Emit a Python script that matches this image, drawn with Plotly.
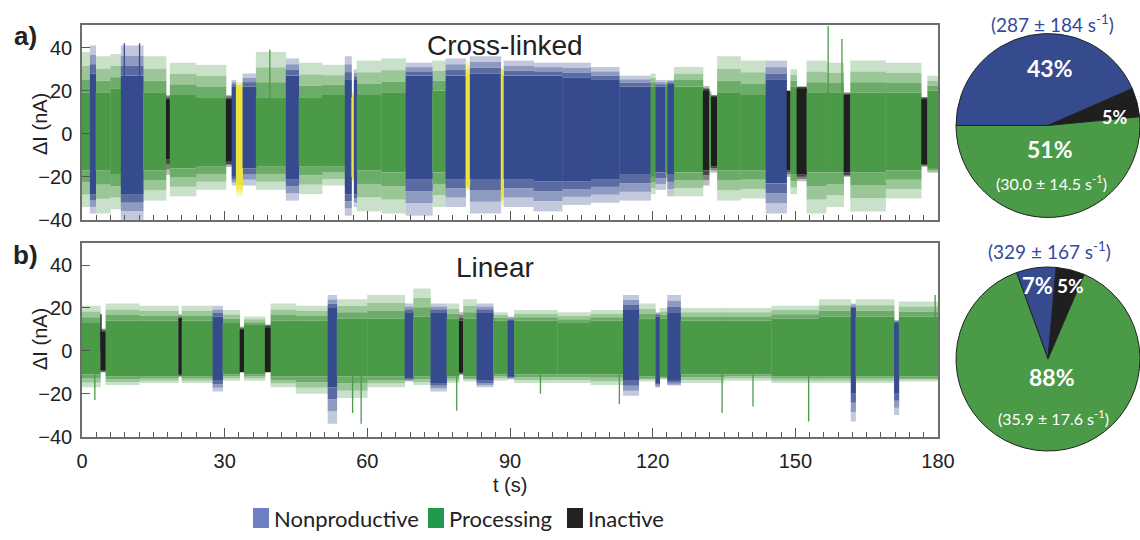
import plotly.graph_objects as go

# ---------------- data ----------------
T_END = 180

# state codes: P = processing, N = nonproductive, I = inactive, U = unassigned
STATE_COLORS = {"P": "#4b9a47", "N": "#364a8e", "I": "#1f1f1f", "U": "#ece33c"}

# Cross-linked trace: segment start times (s), state, dense-core and peak envelopes (nA)
a_start = [0.0, 1.7, 2.9, 6.0, 8.2, 12.9, 17.7, 18.5, 24.0, 30.3, 31.5, 32.4, 33.8, 36.6,
           42.9, 45.6, 50.5, 55.3, 56.7, 57.2, 57.8, 63.0, 68.1, 73.7, 76.5, 80.7, 81.6,
           88.1, 88.7, 95.0, 101.0, 107.0, 113.0, 119.6, 120.6, 122.8, 123.1, 124.5,
           130.6, 131.9, 132.3, 133.6, 138.5, 143.8, 148.2, 149.0, 150.3, 152.4, 156.5,
           160.2, 161.6, 169.0, 176.5, 177.8]
a_state = ["P", "N", "P", "P", "N", "P", "I", "P", "P", "I", "N", "U", "N", "P",
           "N", "P", "P", "N", "U", "N", "P", "P", "N", "P", "N", "U", "N",
           "U", "N", "N", "N", "N", "N", "P", "N", "P", "N", "P",
           "I", "P", "I", "P", "P", "N", "I", "P", "I", "P", "P",
           "I", "P", "P", "I", "P"]
a_core_hi = [19, 28, 19, 21, 27, 19, 16, 18, 17, 16, 22, 22, 22, 17,
             27, 17, 18, 25, 17, 25, 18, 19, 27, 20, 27, 28, 28,
             30, 27, 27, 26, 25, 22, 22, 22, 22, 23, 22,
             20, 18, 17, 19, 18, 25, 20, 22, 21, 19, 19,
             18, 19, 19, 16, 20]
a_core_lo = [-17, -28, -17, -19, -28, -17, -12, -16, -15, -13, -20, -24, -16, -15,
             -21, -15, -15, -28, -20, -28, -17, -18, -21, -18, -21, -24, -21,
             -30, -21, -22, -22, -21, -19, -20, -18, -18, -19, -18,
             -17, -15, -15, -17, -17, -23, -17, -19, -19, -18, -18,
             -18, -18, -17, -14, -16]
a_peak_hi = [38, 41, 36, 37, 41, 36, 18, 33, 32, 18, 25, 24, 28, 38,
             35, 33, 32, 36, 20, 30, 34, 35, 33, 34, 35, 34, 36,
             30, 34, 33, 33, 31, 27, 28, 25, 25, 25, 31,
             22, 20, 18, 36, 34, 34, 20, 30, 22, 34, 33,
             19, 34, 33, 17, 27]
a_peak_lo = [-34, -37, -37, -35, -40, -31, -19, -29, -26, -15, -24, -29, -24, -26,
             -31, -28, -24, -38, -22, -34, -36, -37, -38, -34, -34, -26, -37,
             -33, -34, -36, -33, -32, -31, -28, -26, -22, -29, -29,
             -24, -18, -18, -31, -30, -37, -20, -28, -22, -37, -34,
             -20, -36, -30, -15, -18]
a_spike_t = [39.5, 156.9, 159.8, 8.9, 12.1]
a_spike_v = [39, 50, 44, 42, 42]

# Linear trace
b_start = [0.0, 3.9, 5.0, 12.0, 20.3, 21.0, 27.5, 29.6, 33.2, 34.1, 38.5, 39.7, 45.0,
           51.7, 53.6, 60.0, 67.9, 69.7, 73.3, 76.7, 79.3, 80.2, 83.0, 86.5, 89.5,
           90.9, 100.0, 107.0, 113.8, 117.1, 120.6, 121.5, 123.1, 125.9, 135.0, 145.0,
           155.0, 161.7, 162.7, 170.8, 171.8]
b_state = ["P", "I", "P", "P", "I", "P", "N", "P", "I", "P", "I", "P", "P",
           "N", "P", "P", "N", "P", "N", "P", "I", "P", "N", "P", "N",
           "P", "P", "P", "N", "P", "N", "P", "N", "P", "P", "P",
           "P", "N", "P", "N", "P"]
b_core_hi = [13, 9, 14, 14, 15, 14, 16, 13, 10, 12, 11, 14, 14,
             20, 15, 15, 18, 16, 18, 15, 14, 15, 18, 14, 14,
             14, 13, 14, 19, 15, 16, 15, 18, 14, 14, 15,
             16, 20, 16, 13, 16]
b_core_lo = [-11, -9, -12, -12, -11, -12, -14, -11, -10, -11, -10, -12, -12,
             -17, -12, -12, -13, -12, -15, -12, -10, -12, -14, -11, -12,
             -11, -11, -11, -14, -12, -15, -12, -14, -11, -11, -12,
             -12, -20, -12, -20, -12]
b_peak_hi = [21, 10, 22, 21, 17, 21, 21, 19, 11, 16, 12, 22, 21,
             26, 24, 26, 22, 29, 22, 22, 18, 24, 22, 18, 16,
             19, 18, 19, 26, 22, 18, 20, 26, 20, 20, 21,
             24, 22, 24, 14, 23]
b_peak_lo = [-17, -10, -16, -15, -12, -15, -19, -14, -10, -14, -10, -17, -20,
             -34, -22, -17, -14, -16, -19, -15, -11, -14, -17, -14, -13,
             -15, -15, -16, -21, -14, -17, -13, -16, -15, -14, -15,
             -15, -33, -15, -30, -14]
b_spike_t = [4.0, 2.7, 58.7, 56.9, 78.8, 96.4, 113.0, 134.6, 141.1, 152.8, 179.4]
b_spike_v = [17, -23, -34, -29, -28, -20, -25, -29, -26, -33, 26]

# Dwell fractions (%) and rates
pie_labels = ["Nonproductive", "Inactive", "Processing"]
pie_a_values = [43, 5, 51]
pie_b_values = [7, 5, 88]
rate_a_nonprod = "(287 ± 184 s<sup>-1</sup>)"
rate_a_proc = "(30.0 ± 14.5 s<sup>-1</sup>)"
rate_b_nonprod = "(329 ± 167 s<sup>-1</sup>)"
rate_b_proc = "(35.9 ± 17.6 s<sup>-1</sup>)"

x_ticks = [0, 30, 60, 90, 120, 150, 180]
y_ticks = [-40, -20, 0, 20, 40]

PIE_COLORS = ["#364a8e", "#1f1f1f", "#4b9a47"]
LEGEND_COLORS = ["#6e7ec3", "#1f9a4c", "#222222"]
TEXT_BLUE = "#34499a"

W, H = 1140, 540
ARIAL = "Liberation Sans, Arial, sans-serif"
CALI = "Lato, Open Sans, sans-serif"
SEAM = 0.08  # small overlap so neighbouring blocks join without hairline gaps

fig = go.Figure()


def tint(hex_color, amount):
    """Blend a colour toward white; amount=1 keeps the colour, 0 gives white."""
    r, g, b = (int(hex_color[i:i + 2], 16) for i in (1, 3, 5))
    mix = lambda c: round(255 - (255 - c) * amount)
    return "#%02x%02x%02x" % (mix(r), mix(g), mix(b))


def state_at(starts, states, t):
    s = states[0]
    for st, sv in zip(starts, states):
        if st <= t:
            s = sv
    return s


def add_panel(starts, states, chi, clo, phi, plo, sp_t, sp_v, xa, ya):
    ends = starts[1:] + [T_END]
    centers = [(s + e) / 2 for s, e in zip(starts, ends)]
    widths = [e - s + SEAM for s, e in zip(starts, ends)]
    common = dict(x=centers, width=widths, marker_line_width=0,
                  xaxis=xa, yaxis=ya, showlegend=False, hoverinfo="skip")
    # sparse outer fringe -> denser inner fringe -> solid core
    layers = [(0.66, 1.0, 0.3), (0.33, 0.66, 0.56), (0.0, 0.33, 0.82)]
    for frac0, frac1, amt in layers:
        cols = [tint(STATE_COLORS[s], amt) for s in states]
        up_base = [c + (p - c) * frac0 for c, p in zip(chi, phi)]
        up_h = [(p - c) * (frac1 - frac0) for c, p in zip(chi, phi)]
        lo_base = [c + (p - c) * frac1 for c, p in zip(clo, plo)]
        lo_h = [(c - p) * (frac1 - frac0) for c, p in zip(clo, plo)]
        fig.add_trace(go.Bar(y=up_h, base=up_base, marker_color=cols, **common))
        fig.add_trace(go.Bar(y=lo_h, base=lo_base, marker_color=cols, **common))
    cols = [STATE_COLORS[s] for s in states]
    fig.add_trace(go.Bar(y=[h - l for h, l in zip(chi, clo)], base=clo,
                         marker_color=cols, **common))
    # isolated excursions
    groups = {}
    for t, v in zip(sp_t, sp_v):
        groups.setdefault(state_at(starts, states, t), []).append((t, v))
    for s, pts in groups.items():
        xs, ys = [], []
        for t, v in pts:
            xs += [t, t, None]
            ys += [0, v, None]
        fig.add_trace(go.Scatter(x=xs, y=ys, mode="lines",
                                 line=dict(color=STATE_COLORS[s], width=1.3),
                                 xaxis=xa, yaxis=ya, showlegend=False, hoverinfo="skip"))


add_panel(a_start, a_state, a_core_hi, a_core_lo, a_peak_hi, a_peak_lo,
          a_spike_t, a_spike_v, "x", "y")
add_panel(b_start, b_state, b_core_hi, b_core_lo, b_peak_hi, b_peak_lo,
          b_spike_t, b_spike_v, "x2", "y2")


def px(x):
    return x / W


def py(y):
    return 1 - y / H


# pies
pie_common = dict(labels=pie_labels, sort=False, direction="clockwise", textinfo="none",
                  marker=dict(colors=PIE_COLORS, line=dict(color="#222222", width=1)),
                  showlegend=False, hoverinfo="skip")
fig.add_trace(go.Pie(values=pie_a_values, rotation=-90,
                     domain=dict(x=[px(956), px(1140)], y=[py(218), py(33)]), **pie_common))
fig.add_trace(go.Pie(values=pie_b_values, rotation=-20,
                     domain=dict(x=[px(956), px(1140)], y=[py(451), py(267)]), **pie_common))

axis_line = dict(showline=True, mirror=True, linecolor="#6e6e6e", linewidth=1.5,
                 showgrid=False, zeroline=False, automargin=False)
x_common = dict(range=[0, T_END], tickvals=x_ticks, ticks="inside", ticklen=9, tickwidth=1.2,
                tickcolor="#555555", minor=dict(dtick=3, tick0=0, ticks="inside", ticklen=5,
                                                 tickwidth=1, tickcolor="#555555"),
                **axis_line)
y_common = dict(range=[-40, 50.5], tickvals=y_ticks, ticks="inside", ticklen=8, tickwidth=1.2,
                tickcolor="#555555", tickfont=dict(family=ARIAL, size=20, color="#222222"),
                ticklabelstandoff=4, **axis_line)

fig.update_layout(
    width=W, height=H, autosize=False,
    margin=dict(l=0, r=0, t=0, b=0),
    paper_bgcolor="white", plot_bgcolor="white",
    barmode="overlay",
    xaxis=dict(domain=[px(82), px(938)], anchor="y", showticklabels=False, **x_common),
    yaxis=dict(domain=[py(220), py(25)], anchor="x", **y_common),
    xaxis2=dict(domain=[px(82), px(938)], anchor="y2", showticklabels=True,
                tickfont=dict(family=ARIAL, size=20, color="#222222"),
                ticklabelstandoff=6, **x_common),
    yaxis2=dict(domain=[py(436.5), py(242.5)], anchor="x2", **y_common),
)

ann = []


def text(x, y, s, size, color="#222222", family=ARIAL, bold=False, angle=0):
    if bold:
        s = "<b>" + s + "</b>"
    ann.append(dict(x=px(x), y=py(y), xref="paper", yref="paper", text=s, showarrow=False,
                    xanchor="center", yanchor="middle", textangle=angle,
                    font=dict(family=family, size=size, color=color)))


text(25, 36, "a)", 26, bold=True)
text(25, 255, "b)", 26, bold=True)
text(505, 45, "Cross-linked", 28)
text(495, 268, "Linear", 28)
text(40, 124, "ΔI (nA)", 20, angle=-90)
text(40, 339, "ΔI (nA)", 20, angle=-90)
text(510, 485, "t (s)", 20)

# pie labels
text(1052, 23, rate_a_nonprod, 19, color=TEXT_BLUE, family=CALI)
text(1050, 68, "43%", 23, color="white", family=CALI, bold=True)
text(1114, 117, "5%", 18, color="white", family=CALI, bold=True)
text(1050, 149, "51%", 23, color="white", family=CALI, bold=True)
text(1051, 182, rate_a_proc, 16, color="white", family=CALI)

text(1049, 250, rate_b_nonprod, 19, color=TEXT_BLUE, family=CALI)
text(1037, 285, "7%", 22, color="white", family=CALI, bold=True)
text(1070, 285, "5%", 19, color="white", family=CALI, bold=True)
text(1052, 377, "88%", 23, color="white", family=CALI, bold=True)
text(1053, 417, rate_b_proc, 16, color="white", family=CALI)

# legend
shapes = []
legend_items = [(253, "Nonproductive"), (428, "Processing"), (567, "Inactive")]
for (x0, lab), col in zip(legend_items, LEGEND_COLORS):
    shapes.append(dict(type="rect", xref="paper", yref="paper", x0=px(x0), x1=px(x0 + 16),
                       y0=py(528), y1=py(508), fillcolor=col, line=dict(width=0)))
    ann.append(dict(x=px(x0 + 19), y=py(518), xref="paper", yref="paper", text=lab,
                    showarrow=False, xanchor="left", yanchor="middle",
                    font=dict(family=CALI, size=22, color="#222222")))

fig.update_layout(annotations=ann, shapes=shapes)
fig.write_html("out.html")
